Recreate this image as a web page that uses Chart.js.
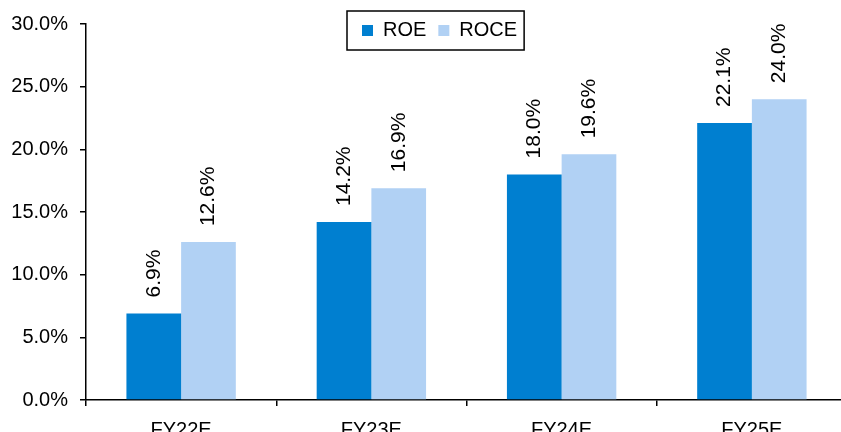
<!DOCTYPE HTML>
<html lang="en">
<head>
<meta charset="UTF-8">
<title>ROE / ROCE</title>
<script src="https://cdn.jsdelivr.net/npm/chart.js@4/dist/chart.umd.min.js"></script>
<style>
  html, body { margin: 0; padding: 0; background: #fff; overflow: hidden; }
  #wrap { width: 841px; height: 432px; overflow: hidden; }
</style>
</head>
<body>
<div id="wrap">
  <canvas id="canvas" width="847" height="432"></canvas>
</div>

<script>
// data
var years = ['FY22E', 'FY23E', 'FY24E', 'FY25E'];
var roe   = [6.9, 14.2, 18.0, 22.1];
var roce  = [12.6, 16.9, 19.6, 24.0];
var yTicks = [0, 5, 10, 15, 20, 25, 30];

var FONT = 'Liberation Sans, Arial, sans-serif';

// rotated value labels above each bar
var barLabels = {
  id: 'barLabels',
  afterDatasetsDraw: function(chart) {
    var ctx = chart.ctx;
    chart.data.datasets.forEach(function(ds, i) {
      chart.getDatasetMeta(i).data.forEach(function(bar, j) {
        ctx.save();
        ctx.translate(bar.x, bar.y - 16);
        ctx.rotate(-Math.PI / 2);
        ctx.font = '21px ' + FONT;
        ctx.fillStyle = '#000';
        ctx.textAlign = 'left';
        ctx.textBaseline = 'middle';
        ctx.fillText(ds.data[j].toFixed(1) + '%', 0, 0);
        ctx.restore();
      });
    });
  }
};

// legend takes no room in the layout, sits over the plot, boxed
var legendBox = {
  id: 'legendBox',
  afterInit: function(chart) {
    var lg = chart.legend;
    var fit = lg.fit;
    lg.fit = function() {
      fit.call(this);
      this._realH = this.height;
      this.height = 0;
    };
  },
  afterLayout: function(chart) {
    var lg = chart.legend;
    lg.left = 350;
    lg.top = 8.5;
    lg.height = lg._realH;
    lg.bottom = lg.top + lg._realH;
  },
  afterDraw: function(chart) {
    var hb = chart.legend.legendHitBoxes;
    if (!hb || !hb.length) return;
    var last = hb[hb.length - 1];
    var x0 = hb[0].left - 15;
    var x1 = last.left + last.width + 7;
    var cy = hb[0].top + hb[0].height / 2;
    var ctx = chart.ctx;
    ctx.save();
    ctx.strokeStyle = '#000';
    ctx.lineWidth = 1.5;
    ctx.strokeRect(x0, cy - 19.5, x1 - x0, 39);
    ctx.restore();
  }
};

var ctx = document.getElementById('canvas').getContext('2d');
window.myChart = new Chart(ctx, {
  type: 'bar',
  data: {
    labels: years,
    datasets: [
      { label: 'ROE',  data: roe,  backgroundColor: '#007FD0', barPercentage: 1, categoryPercentage: 0.575 },
      { label: 'ROCE', data: roce, backgroundColor: '#B1D1F4', barPercentage: 1, categoryPercentage: 0.575 }
    ]
  },
  options: {
    responsive: false,
    animation: false,
    layout: { padding: { top: 23, left: 0, right: 0, bottom: 0 } },
    plugins: {
      legend: {
        position: 'top',
        align: 'start',
        labels: {
          boxWidth: 11,
          boxHeight: 11,
          padding: 12,
          color: '#000',
          font: { family: FONT, size: 20 }
        }
      },
      tooltip: { enabled: false }
    },
    scales: {
      x: {
        afterFit: function(s) { s.height = 32; },
        grid: { display: true, drawOnChartArea: false, drawTicks: true, tickLength: 6, color: '#000', lineWidth: 1.5 },
        border: { color: '#000', width: 1.5 },
        ticks: { color: '#000', padding: 12, font: { family: FONT, size: 20 } }
      },
      y: {
        min: 0,
        max: 30,
        afterFit: function(s) { s.width = 86; },
        afterBuildTicks: function(s) { s.ticks = yTicks.map(function(v) { return { value: v }; }); },
        grid: { display: true, drawOnChartArea: false, drawTicks: true, tickLength: 6, color: '#000', lineWidth: 1.5 },
        border: { color: '#000', width: 1.5 },
        ticks: {
          color: '#000',
          padding: 12,
          font: { family: FONT, size: 20 },
          callback: function(v) { return v.toFixed(1) + '%'; }
        }
      }
    }
  },
  plugins: [barLabels, legendBox]
});
</script>
</body>
</html>
